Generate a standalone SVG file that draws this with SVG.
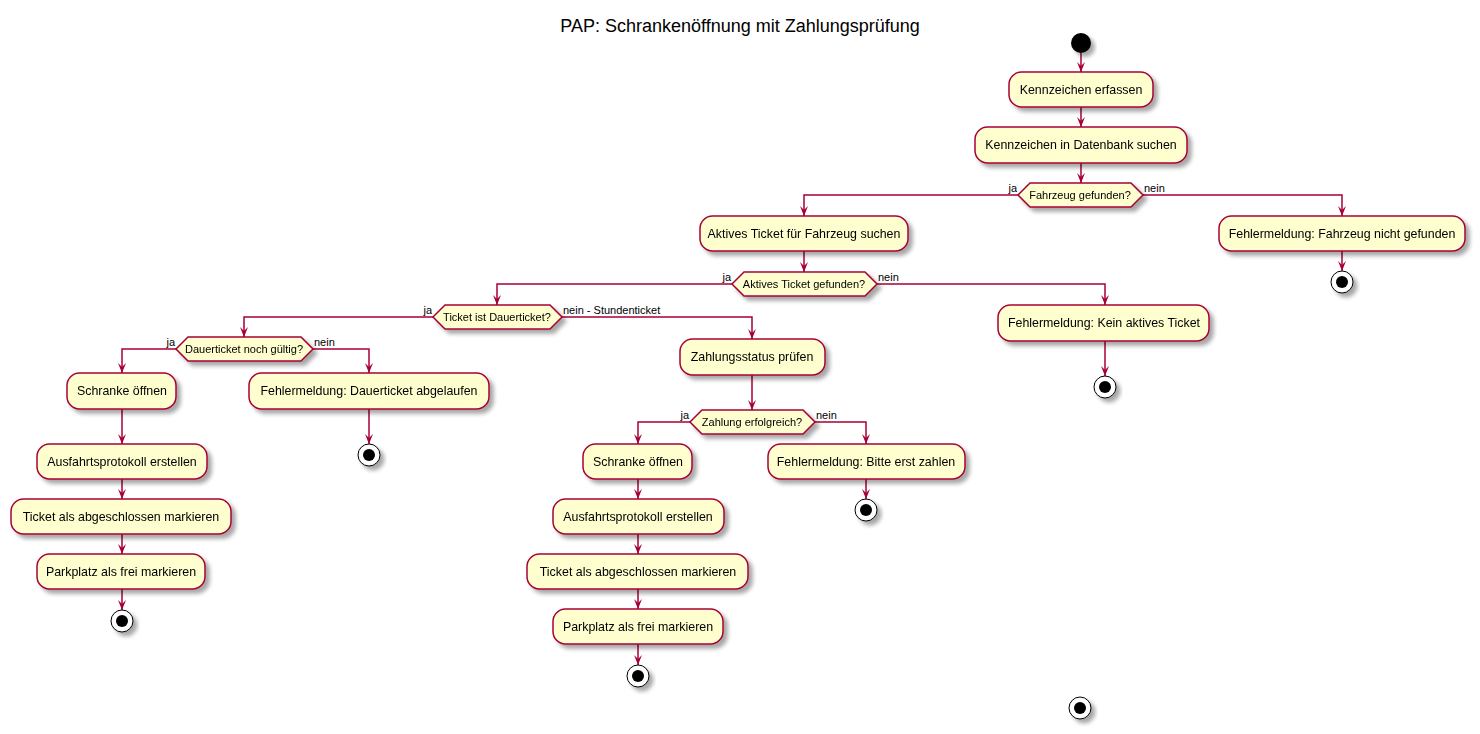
<svg xmlns="http://www.w3.org/2000/svg" width="1480" height="734" viewBox="0 0 1480 734">
<defs>
<filter id="sh" x="-20%" y="-30%" width="150%" height="180%">
<feGaussianBlur in="SourceAlpha" stdDeviation="2" result="b"/>
<feOffset in="b" dx="4" dy="4" result="o"/>
<feComponentTransfer in="o" result="c"><feFuncA type="linear" slope="0.35"/></feComponentTransfer>
<feMerge><feMergeNode in="c"/><feMergeNode in="SourceGraphic"/></feMerge>
</filter>
<marker id="ah" viewBox="0 0 10 8" refX="10" refY="4" markerWidth="10" markerHeight="8" markerUnits="userSpaceOnUse" orient="auto">
<path d="M0,0 L10,4 L0,8 L4,4 Z" fill="#A80036"/>
</marker>
</defs>
<style>
.act rect{fill:#FEFECE;stroke:#A80036;stroke-width:1.5;}
.dec polygon{fill:#FEFECE;stroke:#A80036;stroke-width:1.5;}
.act text{font-family:"Liberation Sans",Arial,sans-serif;font-size:12.4px;fill:#000;text-anchor:middle;}
.dec text{font-family:"Liberation Sans",Arial,sans-serif;font-size:11px;fill:#000;text-anchor:middle;}
.lbl{font-family:"Liberation Sans",Arial,sans-serif;font-size:11px;fill:#000;}
.lr{text-anchor:end;}
#connectors path{fill:none;stroke:#A80036;stroke-width:1.5;marker-end:url(#ah);}
.stop .o{fill:#FFFFFF;stroke:#000;stroke-width:1;}
.stop .i{fill:#000;stroke:none;}
</style>
<rect width="1480" height="734" fill="#FFFFFF"/>
<text x="740" y="32" text-anchor="middle" font-family="Liberation Sans, Arial, sans-serif" font-size="18">PAP: Schrankenöffnung mit Zahlungsprüfung</text>

<g id="connectors">
<path d="M1081,53 L1081,72"/>
<path d="M1081,107 L1081,127"/>
<path d="M1081,163 L1081,183"/>
<path d="M1018,195 L804,195 L804,216"/>
<path d="M1143,195 L1342,195 L1342,216"/>
<path d="M1342,251 L1342,271"/>
<path d="M804,251 L804,272"/>
<path d="M732,284 L497,284 L497,305"/>
<path d="M877,284 L1105,284 L1105,305"/>
<path d="M1105,341 L1105,376"/>
<path d="M433,317 L244,317 L244,337"/>
<path d="M562,317 L752,317 L752,339"/>
<path d="M176,349 L122,349 L122,373"/>
<path d="M313,349 L369,349 L369,373"/>
<path d="M369,409 L369,444"/>
<path d="M122,409 L122,444"/>
<path d="M122,479 L122,499"/>
<path d="M122,534 L122,554"/>
<path d="M122,589 L122,610"/>
<path d="M752,375 L752,410"/>
<path d="M690,422 L638,422 L638,444"/>
<path d="M815,422 L866,422 L866,444"/>
<path d="M866,479 L866,499"/>
<path d="M638,479 L638,499"/>
<path d="M638,534 L638,554"/>
<path d="M638,589 L638,609"/>
<path d="M638,644 L638,665"/>
</g>

<g id="labels">
<text class="lbl lr" x="1017" y="192">ja</text>
<text class="lbl" x="1144" y="192">nein</text>
<text class="lbl lr" x="731" y="281">ja</text>
<text class="lbl" x="878" y="281">nein</text>
<text class="lbl lr" x="432" y="314">ja</text>
<text class="lbl" x="563" y="314">nein - Stundenticket</text>
<text class="lbl lr" x="175" y="346">ja</text>
<text class="lbl" x="314" y="346">nein</text>
<text class="lbl lr" x="689" y="419">ja</text>
<text class="lbl" x="816" y="419">nein</text>
</g>

<g id="start" filter="url(#sh)"><circle cx="1081" cy="43" r="10" fill="#000"/></g>

<g id="n_erfassen" class="act" filter="url(#sh)"><rect x="1009" y="72" width="144" height="35" rx="12.5"/><text x="1081" y="94">Kennzeichen erfassen</text></g>
<g id="n_suchen" class="act" filter="url(#sh)"><rect x="975" y="127" width="212" height="36" rx="12.5"/><text x="1081" y="149">Kennzeichen in Datenbank suchen</text></g>
<g id="d_fahrzeug" class="dec" filter="url(#sh)"><polygon points="1018,195 1030,183 1131,183 1143,195 1131,207 1030,207"/><text x="1080" y="199">Fahrzeug gefunden?</text></g>

<g id="n_ticket_suchen" class="act" filter="url(#sh)"><rect x="700" y="216" width="208" height="35" rx="12.5"/><text x="804" y="238">Aktives Ticket für Fahrzeug suchen</text></g>
<g id="n_err_fahrzeug" class="act" filter="url(#sh)"><rect x="1219" y="216" width="246" height="35" rx="12.5"/><text x="1342" y="238">Fehlermeldung: Fahrzeug nicht gefunden</text></g>
<g id="stop1" class="stop" filter="url(#sh)"><circle class="o" cx="1342" cy="282" r="11"/><circle class="i" cx="1342" cy="282" r="6"/></g>

<g id="d_ticket" class="dec" filter="url(#sh)"><polygon points="732,284 744,272 865,272 877,284 865,296 744,296"/><text x="804" y="288">Aktives Ticket gefunden?</text></g>
<g id="n_err_ticket" class="act" filter="url(#sh)"><rect x="998" y="305" width="211" height="36" rx="12.5"/><text x="1104" y="327">Fehlermeldung: Kein aktives Ticket</text></g>
<g id="stop2" class="stop" filter="url(#sh)"><circle class="o" cx="1105" cy="387" r="11"/><circle class="i" cx="1105" cy="387" r="6"/></g>

<g id="d_dauer" class="dec" filter="url(#sh)"><polygon points="433,317 445,305 550,305 562,317 550,329 445,329"/><text x="497" y="321">Ticket ist Dauerticket?</text></g>
<g id="d_gueltig" class="dec" filter="url(#sh)"><polygon points="176,349 188,337 301,337 313,349 301,361 188,361"/><text x="244" y="353">Dauerticket noch gültig?</text></g>

<g id="n_schranke1" class="act" filter="url(#sh)"><rect x="67" y="373" width="109" height="36" rx="12.5"/><text x="122" y="395">Schranke öffnen</text></g>
<g id="n_err_dauer" class="act" filter="url(#sh)"><rect x="249" y="373" width="240" height="36" rx="12.5"/><text x="369" y="395">Fehlermeldung: Dauerticket abgelaufen</text></g>
<g id="stop3" class="stop" filter="url(#sh)"><circle class="o" cx="369" cy="455" r="11"/><circle class="i" cx="369" cy="455" r="6"/></g>

<g id="n_protokoll1" class="act" filter="url(#sh)"><rect x="37" y="444" width="170" height="35" rx="12.5"/><text x="122" y="466">Ausfahrtsprotokoll erstellen</text></g>
<g id="n_abgeschl1" class="act" filter="url(#sh)"><rect x="11" y="499" width="220" height="35" rx="12.5"/><text x="121" y="521">Ticket als abgeschlossen markieren</text></g>
<g id="n_parkplatz1" class="act" filter="url(#sh)"><rect x="37" y="554" width="168" height="35" rx="12.5"/><text x="121" y="576">Parkplatz als frei markieren</text></g>
<g id="stop4" class="stop" filter="url(#sh)"><circle class="o" cx="122" cy="621" r="11"/><circle class="i" cx="122" cy="621" r="6"/></g>

<g id="n_zahlstatus" class="act" filter="url(#sh)"><rect x="680" y="339" width="145" height="36" rx="12.5"/><text x="752" y="361">Zahlungsstatus prüfen</text></g>
<g id="d_zahlung" class="dec" filter="url(#sh)"><polygon points="690,422 702,410 803,410 815,422 803,434 702,434"/><text x="752" y="426">Zahlung erfolgreich?</text></g>

<g id="n_schranke2" class="act" filter="url(#sh)"><rect x="583" y="444" width="109" height="35" rx="12.5"/><text x="638" y="466">Schranke öffnen</text></g>
<g id="n_err_zahlen" class="act" filter="url(#sh)"><rect x="768" y="444" width="197" height="35" rx="12.5"/><text x="866" y="466">Fehlermeldung: Bitte erst zahlen</text></g>
<g id="stop5" class="stop" filter="url(#sh)"><circle class="o" cx="866" cy="510" r="11"/><circle class="i" cx="866" cy="510" r="6"/></g>

<g id="n_protokoll2" class="act" filter="url(#sh)"><rect x="553" y="499" width="171" height="35" rx="12.5"/><text x="638" y="521">Ausfahrtsprotokoll erstellen</text></g>
<g id="n_abgeschl2" class="act" filter="url(#sh)"><rect x="527" y="554" width="221" height="35" rx="12.5"/><text x="638" y="576">Ticket als abgeschlossen markieren</text></g>
<g id="n_parkplatz2" class="act" filter="url(#sh)"><rect x="553" y="609" width="170" height="35" rx="12.5"/><text x="638" y="631">Parkplatz als frei markieren</text></g>
<g id="stop6" class="stop" filter="url(#sh)"><circle class="o" cx="638" cy="676" r="11"/><circle class="i" cx="638" cy="676" r="6"/></g>

<g id="stop7" class="stop" filter="url(#sh)"><circle class="o" cx="1080" cy="708" r="11"/><circle class="i" cx="1080" cy="708" r="6"/></g>
</svg>
